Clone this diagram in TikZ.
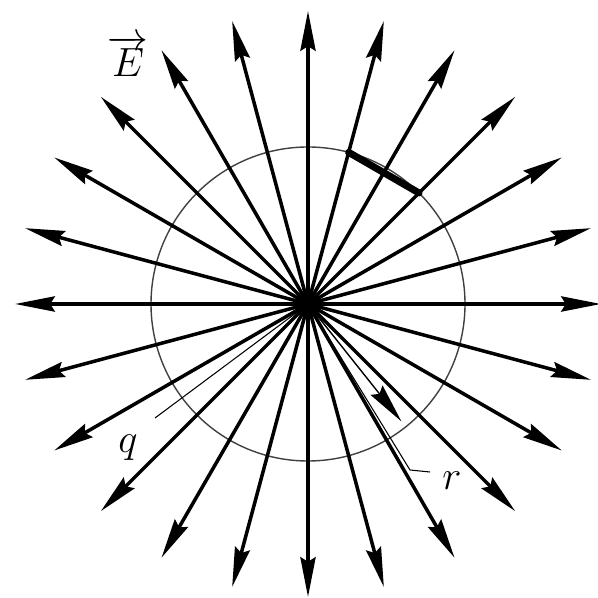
\documentclass[tikz,border=0pt]{standalone}
\usetikzlibrary{arrows.meta,calc}
\begin{document}
\begin{tikzpicture}[x=0.03cm,y=0.03cm,
  fieldray/.style={line width=3pt,-{Stealth[length=34pt,width=13pt,inset=4pt]}},
  sphere/.style={line width=1.2pt,black!75},
  chord/.style={line width=6pt,line cap=round},
  leader/.style={line width=0.9pt},
  radvec/.style={line width=1.2pt,-{Stealth[length=34pt,width=13pt,inset=4pt]}},
  lbl/.style={font=\fontsize{24.88}{28}\selectfont,scale=1.4,transform shape}]
\useasboundingbox (0,0) rectangle (597,598);
\coordinate (C) at (308,294);
% Gaussian sphere
\draw[sphere] (C) circle (157);
% field lines
\foreach \a in {0,15,...,345}{
  \coordinate (e\a) at ($(C)+(\a:293)$);
  \draw[fieldray] (C) -- (e\a);
}
% area element
\coordinate (s1) at ($(C)+(75:157)$);
\coordinate (s2) at ($(C)+(45:157)$);
\draw[chord] (s1) -- (s2);
% radius vector
\coordinate (rt) at ($(C)+(-51.5:150)$);
\draw[radvec] (C) -- (rt);
% charge
\fill (C) circle (12);
% labels
\node[lbl] (E) at (128,542) {$\overrightarrow{E}$};
\node[lbl] (q) at (128,150) {$q$};
\node[lbl] (r) at (452,117) {$r$};
\coordinate (qa) at (155,180);
\draw[leader] (qa) -- (C);
\coordinate (ra) at (430,126);
\coordinate (rb) at (410,128);
\draw[leader] (ra) -- (rb) -- (C);
\end{tikzpicture}
\end{document}
